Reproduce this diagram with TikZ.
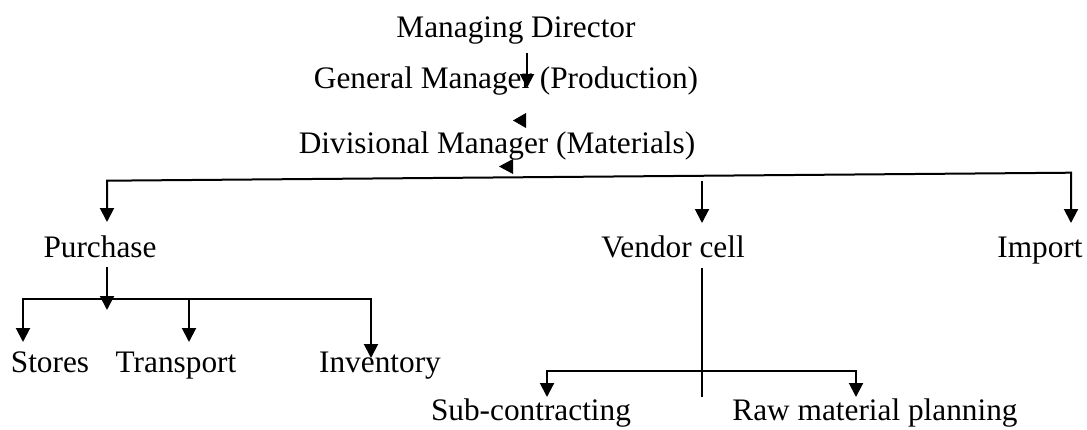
\documentclass[tikz,border=0pt]{standalone}
\usepackage{fontspec}
\setmainfont{Liberation Serif}
\usetikzlibrary{arrows.meta}
\begin{document}
\begin{tikzpicture}[x=0.5pt,y=-0.5pt,
  lbl/.style={inner sep=0pt,anchor=base,font=\fontsize{15.65pt}{18pt}\selectfont},
  conn/.style={line width=1pt},
  thinconn/.style={line width=0.6pt},
  tip/.style={-{Triangle[width=7pt,length=7pt]}},
  tips/.style={{Triangle[width=7pt,length=7pt]}-{Triangle[width=7pt,length=7pt]}},
  head/.style={fill=black}]
\useasboundingbox (0,0) rectangle (1087,429);
% nodes
\node[lbl] (md)  at (516,37)  {Managing Director};
\node[lbl] (gm)  at (506,88)  {General Manager (Production)};
\node[lbl] (dm)  at (497,153) {Divisional Manager (Materials)};
\node[lbl] (pur) at (100,257) {Purchase};
\node[lbl] (ven) at (673,257) {Vendor cell};
\node[lbl] (imp) at (1040,257) {Import};
\node[lbl] (sto) at (50,372)  {Stores};
\node[lbl] (tra) at (176,372) {Transport};
\node[lbl] (inv) at (380,372) {Inventory};
\node[lbl] (sub) at (531,420) {Sub-contracting};
\node[lbl] (raw) at (875,420) {Raw material planning};
% coordinates
\coordinate (mdA) at (527,53);   \coordinate (gmT) at (527,88);
\coordinate (purT) at (107,222); \coordinate (barL) at (107,180.7);
\coordinate (barR) at (1071,172.7); \coordinate (impT) at (1071,223);
\coordinate (venA) at (702,181); \coordinate (venT) at (702,223);
\coordinate (purB) at (107,267); \coordinate (purJ) at (107,310);
\coordinate (stoT) at (23,342);  \coordinate (stoC) at (23,299);
\coordinate (invC) at (371,299); \coordinate (invT) at (371,358);
\coordinate (traC) at (189,299); \coordinate (traT) at (189,342);
\coordinate (venB) at (702,268); \coordinate (venE) at (702,397);
\coordinate (subC) at (547,371); \coordinate (subT) at (547,397);
\coordinate (rawC) at (856,371); \coordinate (rawT) at (856,397);
% connectors
\draw[conn,tip] (mdA) -- (gmT);
\fill[head] (526,113) -- (513,120.5) -- (526,128) -- cycle;
\fill[head] (513,159) -- (499,166.5) -- (513,174) -- cycle;
\draw[conn,tips] (purT) -- (barL) -- (barR) -- (impT);
\draw[conn,tip] (venA) -- (venT);
\draw[conn,tip] (purB) -- (purJ);
\draw[conn,tips] (stoT) -- (stoC) -- (invC) -- (invT);
\draw[conn,tip] (traC) -- (traT);
\draw[thinconn] (venB) -- (venE);
\draw[conn,tips] (subT) -- (subC) -- (rawC) -- (rawT);
\end{tikzpicture}
\end{document}
